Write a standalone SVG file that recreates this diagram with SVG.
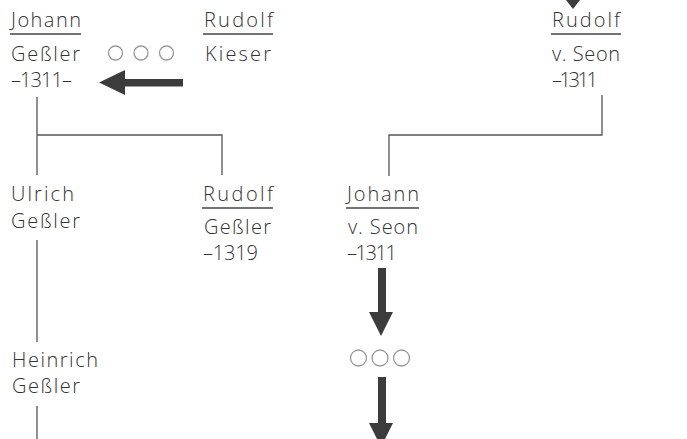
<svg xmlns="http://www.w3.org/2000/svg" width="687" height="439" viewBox="0 0 687 439">
  <style>
    text { font-family: "Open Sans", "Noto Sans", "Liberation Sans", sans-serif; font-size: 20px; font-weight: 300; fill: #333; }
    .rule { stroke: #444; stroke-width: 1.6; fill: none; }
    .link { stroke: #555; stroke-width: 1.3; fill: none; }
    .dot { stroke: #999; stroke-width: 1.3; fill: none; }
    .arrow { fill: #3c3c3c; }
  </style>
  <rect width="687" height="439" fill="#fff"/>

  <!-- family tree connectors and arrows -->
  <g id="connectors">
    <path class="link" d="M37,97 V175 M37,135 H222 V175"/>
    <path class="link" d="M37,240 V342 M37,406 V439"/>
    <path class="link" d="M602,95 V135 H389 V176"/>
    <!-- left arrow: Kieser to Geßler -->
    <rect class="arrow" x="123" y="79" width="60" height="7.5"/>
    <polygon class="arrow" points="99,82.5 125,70 125,95"/>
    <!-- arrow into Rudolf v. Seon -->
    <polygon class="arrow" points="566,0 580,0 573,9"/>
    <!-- down arrows below Johann v. Seon -->
    <rect class="arrow" x="378" y="268" width="8" height="46"/>
    <polygon class="arrow" points="369,312 393,312 381,336"/>
    <rect class="arrow" x="378" y="377" width="8" height="48"/>
    <polygon class="arrow" points="369,423 393,423 381,447"/>
  </g>

  <g id="dots-top">
    <circle class="dot" cx="115.5" cy="53" r="7"/>
    <circle class="dot" cx="141" cy="53" r="7"/>
    <circle class="dot" cx="166.5" cy="53" r="7"/>
  </g>
  <g id="dots-bottom">
    <circle class="dot" cx="358.5" cy="358" r="8"/>
    <circle class="dot" cx="380" cy="358" r="8"/>
    <circle class="dot" cx="401.5" cy="358" r="8"/>
  </g>

  <g id="johann-gessler">
    <text x="11" y="27" textLength="70" lengthAdjust="spacing">Johann</text>
    <line class="rule" x1="10" y1="34" x2="81" y2="34"/>
    <text x="11" y="61" textLength="69" lengthAdjust="spacing">Geßler</text>
    <text x="11" y="87" textLength="61" lengthAdjust="spacing">–1311–</text>
  </g>

  <g id="rudolf-kieser">
    <text x="204" y="27" textLength="69" lengthAdjust="spacing">Rudolf</text>
    <line class="rule" x1="203" y1="34" x2="273" y2="34"/>
    <text x="205" y="61" textLength="66" lengthAdjust="spacing">Kieser</text>
  </g>

  <g id="rudolf-seon">
    <text x="552" y="27" textLength="68" lengthAdjust="spacing">Rudolf</text>
    <line class="rule" x1="551" y1="34" x2="621" y2="34"/>
    <text x="552" y="61" textLength="68" lengthAdjust="spacing">v. Seon</text>
    <text x="552" y="87" textLength="46" lengthAdjust="spacing">–1311</text>
  </g>

  <g id="ulrich-gessler">
    <text x="11" y="201" textLength="63" lengthAdjust="spacing">Ulrich</text>
    <text x="11" y="228" textLength="69" lengthAdjust="spacing">Geßler</text>
  </g>

  <g id="rudolf-gessler">
    <text x="203" y="201" textLength="70" lengthAdjust="spacing">Rudolf</text>
    <line class="rule" x1="202" y1="208" x2="273" y2="208"/>
    <text x="204" y="234" textLength="67" lengthAdjust="spacing">Geßler</text>
    <text x="203" y="260" textLength="55" lengthAdjust="spacing">–1319</text>
  </g>

  <g id="johann-seon">
    <text x="347" y="201" textLength="72" lengthAdjust="spacing">Johann</text>
    <line class="rule" x1="346" y1="208" x2="419" y2="208"/>
    <text x="348" y="234" textLength="70" lengthAdjust="spacing">v. Seon</text>
    <text x="347" y="260" textLength="50" lengthAdjust="spacing">–1311</text>
  </g>

  <g id="heinrich-gessler">
    <text x="12" y="367" textLength="86" lengthAdjust="spacing">Heinrich</text>
    <text x="12" y="393" textLength="68" lengthAdjust="spacing">Geßler</text>
  </g>
</svg>
